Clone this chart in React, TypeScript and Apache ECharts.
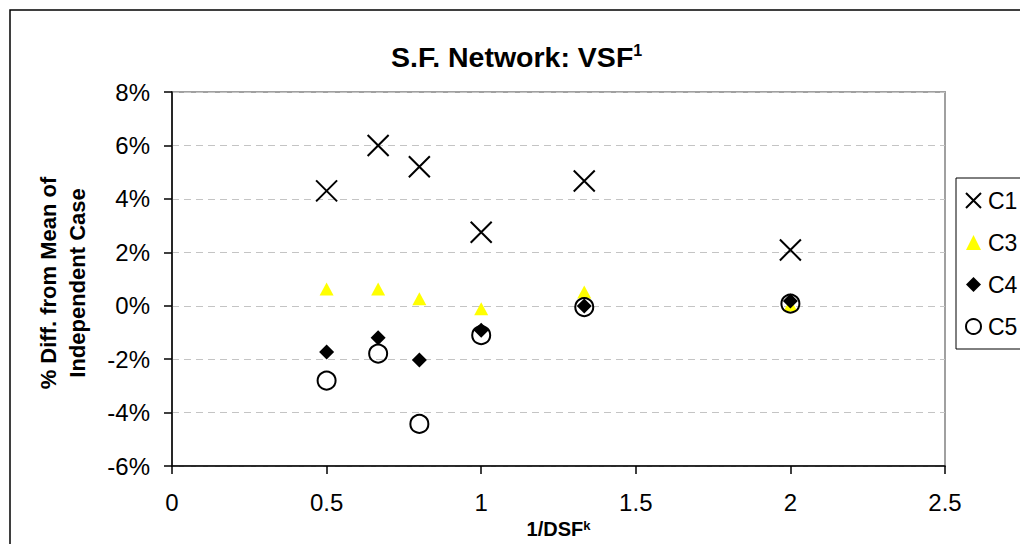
import React, { useEffect, useRef } from "react";
import * as echarts from "echarts";

const FONT = "Arial, 'Liberation Sans', sans-serif";

const xValues = [0.5, 0.6667, 0.8, 1, 1.3333, 2];
const seriesNames = ["C1", "C3", "C4", "C5"];
const c1 = [4.3, 6.0, 5.2, 2.75, 4.67, 2.09];
const c3 = [0.63, 0.63, 0.26, -0.11, 0.52, 0.03];
const c4 = [-1.73, -1.2, -2.03, -0.92, -0.01, 0.18];
const c5 = [-2.8, -1.79, -4.42, -1.1, -0.05, 0.08];
const xTicks = { min: 0, max: 2.5, interval: 0.5 };
const yTicks = { min: -6, max: 8, interval: 2 };

const pair = (ys: number[]) => xValues.map((x, i) => [x, ys[i]]);

export default function App() {
  const ref = useRef<HTMLDivElement>(null);
  useEffect(() => {
    document.body.style.margin = "0";
    const chart = echarts.init(ref.current!, undefined, { renderer: "svg" });
    chart.setOption({
      animation: false,
      backgroundColor: "#fff",
      title: {
        text: "{m|S.F. Network: VSF}{s|1}",
        left: 386,
        top: 37,
        textStyle: {
          rich: {
            m: { fontSize: 28.5, fontWeight: "bold", fontFamily: FONT, color: "#000" },
            s: { fontSize: 16, fontWeight: "bold", fontFamily: FONT, color: "#000", verticalAlign: "top" },
          },
        },
      },
      grid: {
        left: 172,
        right: 75,
        top: 92,
        bottom: 72,
        show: true,
        borderColor: "#a0a0a0",
        borderWidth: 2,
        backgroundColor: "#fff",
      },
      legend: {
        orient: "vertical",
        left: 956,
        top: 178,
        padding: [10, 14, 10, 9],
        itemGap: 17,
        itemWidth: 15,
        itemHeight: 15,
        borderColor: "#000",
        borderWidth: 1,
        backgroundColor: "#fff",
        textStyle: { fontSize: 23, fontFamily: FONT, color: "#000", lineHeight: 25, padding: [0, 0, 0, 2] },
        data: seriesNames,
      },
      xAxis: {
        type: "value",
        min: xTicks.min,
        max: xTicks.max,
        interval: xTicks.interval,
        name: "{m|1/DSF}{s|k}",
        nameLocation: "middle",
        nameGap: 41,
        nameTextStyle: {
          rich: {
            m: { fontSize: 20, fontWeight: "bold", fontFamily: FONT, color: "#000" },
            s: { fontSize: 13, fontWeight: "bold", fontFamily: FONT, color: "#000", verticalAlign: "top" },
          },
        },
        axisLine: { onZero: false, lineStyle: { color: "#000", width: 1.5 } },
        axisTick: { show: true, inside: false, length: 8, lineStyle: { color: "#000", width: 1.5 } },
        axisLabel: { fontSize: 24, fontFamily: FONT, color: "#000", margin: 24 },
        splitLine: { show: false },
      },
      yAxis: {
        type: "value",
        min: yTicks.min,
        max: yTicks.max,
        interval: yTicks.interval,
        axisLine: { show: true, onZero: false, lineStyle: { color: "#000", width: 1.5 } },
        axisTick: { show: true, inside: false, length: 8, lineStyle: { color: "#000", width: 1.5 } },
        axisLabel: { fontSize: 24, fontFamily: FONT, color: "#000", margin: 22, formatter: (v: number) => `${v}%` },
        splitLine: { show: true, lineStyle: { color: "#c4c4c4", type: [7, 5], width: 1 } },
      },
      graphic: [
        {
          type: "rect",
          shape: { x: 10, y: 10, width: 1200, height: 700 },
          style: { fill: "none", stroke: "#000", lineWidth: 1.5 },
          silent: true,
          z: -10,
        },
        {
          type: "text",
          x: 63,
          y: 283,
          rotation: Math.PI / 2,
          style: {
            text: "% Diff. from Mean of\nIndependent Case",
            font: `bold 22px ${FONT}`,
            fill: "#000",
            align: "center",
            verticalAlign: "middle",
            lineHeight: 29,
          },
        },
      ],
      series: [
        {
          name: "C1",
          type: "scatter",
          data: pair(c1),
          symbol: "path://M0,0L20,20M20,0L0,20",
          symbolSize: 21,
          itemStyle: { color: "transparent", borderColor: "#000", borderWidth: 2, opacity: 1 },
        },
        {
          name: "C3",
          type: "scatter",
          data: pair(c3),
          symbol: "triangle",
          symbolSize: [14, 13],
          itemStyle: { color: "#ffff00", opacity: 1 },
        },
        {
          name: "C4",
          type: "scatter",
          data: pair(c4),
          symbol: "diamond",
          symbolSize: 15,
          itemStyle: { color: "#000", opacity: 1 },
        },
        {
          name: "C5",
          type: "scatter",
          data: pair(c5),
          symbol: "circle",
          symbolSize: 18,
          itemStyle: { color: "transparent", borderColor: "#000", borderWidth: 2, opacity: 1 },
        },
      ],
    });
    return () => chart.dispose();
  }, []);
  return <div ref={ref} style={{ width: 1020, height: 544 }} />;
}
